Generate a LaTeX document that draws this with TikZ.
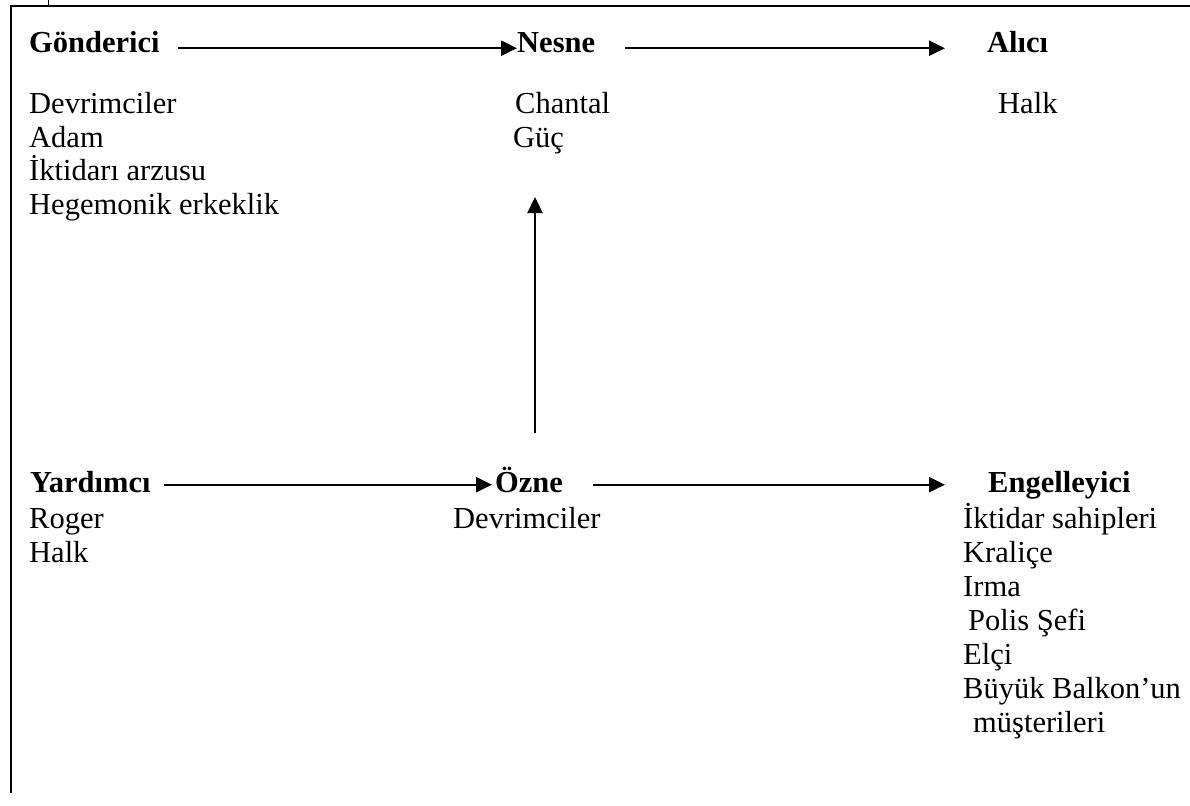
\documentclass[tikz,border=0pt]{standalone}
\usepackage{fontspec}
\setmainfont{Liberation Serif}
\usetikzlibrary{arrows.meta}
\begin{document}
\begin{tikzpicture}[x=1pt,y=-1pt,
  txt/.style={anchor=base west,inner sep=0pt,font=\fontsize{30.5}{34}\selectfont},
  head/.style={txt,font=\fontsize{30.5}{34}\selectfont\bfseries},
  link/.style={line width=2.3pt,-{Triangle[length=16pt,width=15pt]}},
  frame/.style={line width=2pt}]
\useasboundingbox (0,0) rectangle (1190,805);

% frame: top and left rules, small tick
\draw[frame] (1190,6) -- (11,6) -- (11,793);
\draw[line width=0.8pt] (48,0) -- (48,6);

% top row
\node[head] (gond)  at (29,53)  {Gönderici};
\node[head] (nesne) at (517,53) {Nesne};
\node[head] (alici) at (987,53) {Alıcı};

\node[txt] (g1) at (29,114)   {Devrimciler};
\node[txt] (g2) at (29,147.5) {Adam};
\node[txt] (g3) at (29,181)   {İktidarı arzusu};
\node[txt] (g4) at (29,214.5) {Hegemonik erkeklik};

\node[txt] (n1) at (515,114)   {Chantal};
\node[txt] (n2) at (513,147.5) {Güç};

\node[txt] (a1) at (998,114) {Halk};

% bottom row
\node[head] (yard)  at (30,492)  {Yardımcı};
\node[head] (ozne)  at (495,492) {Özne};
\node[head] (engel) at (988,492) {Engelleyici};

\node[txt] (y1) at (29,528) {Roger};
\node[txt] (y2) at (29,562) {Halk};

\node[txt] (o1) at (453,528) {Devrimciler};

\node[txt] (e1) at (963,528) {İktidar sahipleri};
\node[txt] (e2) at (963,562) {Kraliçe};
\node[txt] (e3) at (963,596) {Irma};
\node[txt] (e4) at (968,630) {Polis Şefi};
\node[txt] (e5) at (963,664) {Elçi};
\node[txt] (e6) at (963,698) {Büyük Balkon’un};
\node[txt] (e7) at (973,732) {müşterileri};

% connectors
\draw[link] ([xshift=18pt,yshift=2.5pt]gond.mid east) -- ([yshift=2.5pt]nesne.mid west);
\draw[link] ([xshift=30pt,yshift=2.5pt]nesne.mid east) -- ([xshift=-42pt,yshift=2.5pt]alici.mid west);
\draw[link] ([xshift=13pt,yshift=5pt]yard.mid east) -- ([xshift=-3pt,yshift=5pt]ozne.mid west);
\draw[link] ([xshift=30pt,yshift=5pt]ozne.mid east) -- ([xshift=-43pt,yshift=5pt]engel.mid west);

\coordinate (vb) at (535,433);
\coordinate (vt) at (535,197);
\draw[link] (vb) -- (vt);
\end{tikzpicture}
\end{document}
